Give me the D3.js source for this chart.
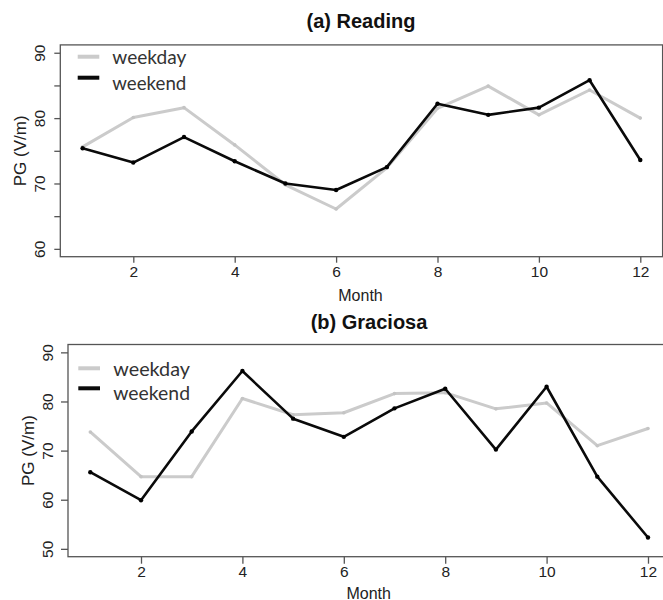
<!DOCTYPE html>
<html><head><meta charset="utf-8">
<script src="https://d3js.org/d3.v7.min.js"></script>
<style>body{margin:0;background:#fff}svg{display:block}</style>
</head><body>
<script>
const months = [1,2,3,4,5,6,7,8,9,10,11,12];
const xTicks = [2,4,6,8,10,12];
const readingWeekday = [75.6, 80.1, 81.6, 75.9, 69.8, 66.1, 72.4, 81.5, 84.9, 80.5, 84.3, 80.0];
const readingWeekend = [75.4, 73.2, 77.1, 73.4, 70.0, 69.0, 72.5, 82.2, 80.5, 81.6, 85.8, 73.6];
const graciosaWeekday = [73.8, 64.7, 64.7, 80.6, 77.3, 77.7, 81.6, 81.8, 78.5, 79.7, 71.0, 74.5];
const graciosaWeekend = [65.6, 59.9, 73.9, 86.2, 76.5, 72.8, 78.6, 82.6, 70.2, 83.0, 64.7, 52.3];
const readingYTicks = [60,70,80,90];
const graciosaYTicks = [50,60,70,80,90];
const seriesNames = ["weekday","weekend"];
const titles = ["(a) Reading","(b) Graciosa"];

const svg = d3.select("body").append("svg").attr("width",663).attr("height",600);

const panels = [
  {title:titles[0], wd:readingWeekday, we:readingWeekend, yDom:[58.8,91.2], yTicks:readingYTicks, yMinor:[65,75,85],
   left:60.3, right:662.6, top:44.9, bottom:256.7, titleX:361, titleY:28, titleSize:20,
   ylabX:26, tickLabX:45, xTickY:277.5, monthY:300.5, monthX:360.5, tickLen:6,
   legY1:56.7, legY2:77.7, legTextY1:63.5, legTextY2:89.5, legX1:77.7, legX2:99.3, legTextX:112.3, legTextLen:74},
  {title:titles[1], wd:graciosaWeekday, we:graciosaWeekend, yDom:[48.4,91.6], yTicks:graciosaYTicks, yMinor:[],
   left:68, right:670.3, top:344.5, bottom:556.7, titleX:369, titleY:329, titleSize:20,
   ylabX:33.5, tickLabX:53, xTickY:577, monthY:598.5, monthX:368.7, tickLen:7,
   legY1:368.3, legY2:388.3, legTextY1:375.5, legTextY2:400, legX1:78.3, legX2:100, legTextX:113.3, legTextLen:76.7}
];

panels.forEach(p => {
  const g = svg.append("g");
  const x = d3.scaleLinear().domain([0.56,12.44]).range([p.left,p.right]);
  const y = d3.scaleLinear().domain(p.yDom).range([p.bottom,p.top]);

  // box
  g.append("rect").attr("x",p.left).attr("y",p.top).attr("width",p.right-p.left).attr("height",p.bottom-p.top)
    .attr("fill","none").attr("stroke","#555").attr("stroke-width",1.3);

  // x axis
  const xa = g.append("g").attr("transform",`translate(0,${p.bottom})`)
    .call(d3.axisBottom(x).tickValues(xTicks).tickSize(p.tickLen).tickSizeOuter(0).tickFormat(d3.format("d")));
  xa.select(".domain").remove();
  xa.selectAll(".tick line").attr("stroke","#555").attr("stroke-width",1.3);
  xa.selectAll(".tick text").attr("y",p.xTickY-p.bottom).attr("dy",0)
    .attr("font-family","Liberation Sans, Arial, sans-serif").attr("font-size",15.5).attr("fill","#222");

  // y axis
  const allY = p.yTicks.concat(p.yMinor);
  const ya = g.append("g").attr("transform",`translate(${p.left},0)`)
    .call(d3.axisLeft(y).tickValues(allY).tickSize(p.tickLen).tickSizeOuter(0).tickFormat(d => p.yTicks.includes(d)? d3.format("d")(d):""));
  ya.select(".domain").remove();
  ya.selectAll(".tick line").attr("stroke","#555").attr("stroke-width",1.3);
  ya.selectAll(".tick text").each(function(d){
    d3.select(this).attr("x",0).attr("dy",0)
      .attr("transform",`translate(${p.tickLabX-p.left},0) rotate(-90)`)
      .attr("text-anchor","middle")
      .attr("font-family","Liberation Sans, Arial, sans-serif").attr("font-size",15.5).attr("fill","#222");
  });

  // y label
  g.append("text").attr("transform",`translate(${p.ylabX},${(p.top+p.bottom)/2}) rotate(-90)`)
    .attr("text-anchor","middle").attr("font-family","Liberation Sans, Arial, sans-serif").attr("font-size",17)
    .attr("fill","#222").text("PG (V/m)");
  // x label
  g.append("text").attr("x",p.monthX).attr("y",p.monthY).attr("text-anchor","middle")
    .attr("font-family","Liberation Sans, Arial, sans-serif").attr("font-size",16).attr("fill","#222").text("Month");
  // title
  g.append("text").attr("x",p.titleX).attr("y",p.titleY).attr("text-anchor","middle")
    .attr("font-family","Liberation Sans, Arial, sans-serif").attr("font-weight","bold").attr("font-size",p.titleSize)
    .attr("fill","#111").text(p.title);

  const line = d3.line().x((d,i)=>x(months[i])).y(d=>y(d));
  g.append("path").datum(p.wd).attr("d",line).attr("fill","none").attr("stroke","#cbcbcb").attr("stroke-width",3).attr("stroke-linejoin","round");
  g.selectAll(".pwd").data(p.wd).join("circle").attr("cx",(d,i)=>x(months[i])).attr("cy",d=>y(d)).attr("r",1.8).attr("fill","#c4c4c4");
  g.append("path").datum(p.we).attr("d",line).attr("fill","none").attr("stroke","#0a0a0a").attr("stroke-width",2.6).attr("stroke-linejoin","round");
  g.selectAll(".pwe").data(p.we).join("circle").attr("cx",(d,i)=>x(months[i])).attr("cy",d=>y(d)).attr("r",2.2).attr("fill","#000");

  // legend
  const legCols = ["#cbcbcb","#0a0a0a"];
  [[p.legY1,p.legTextY1],[p.legY2,p.legTextY2]].forEach((ly,i)=>{
    g.append("line").attr("x1",p.legX1).attr("x2",p.legX2).attr("y1",ly[0]).attr("y2",ly[0])
      .attr("stroke",legCols[i]).attr("stroke-width",4);
    g.append("text").attr("x",p.legTextX).attr("y",ly[1]).attr("font-family","Lato, Open Sans, sans-serif")
      .attr("font-size",20).attr("fill","#333").attr("textLength",p.legTextLen).attr("lengthAdjust","spacingAndGlyphs")
      .text(seriesNames[i]);
  });
});
</script>
</body></html>
